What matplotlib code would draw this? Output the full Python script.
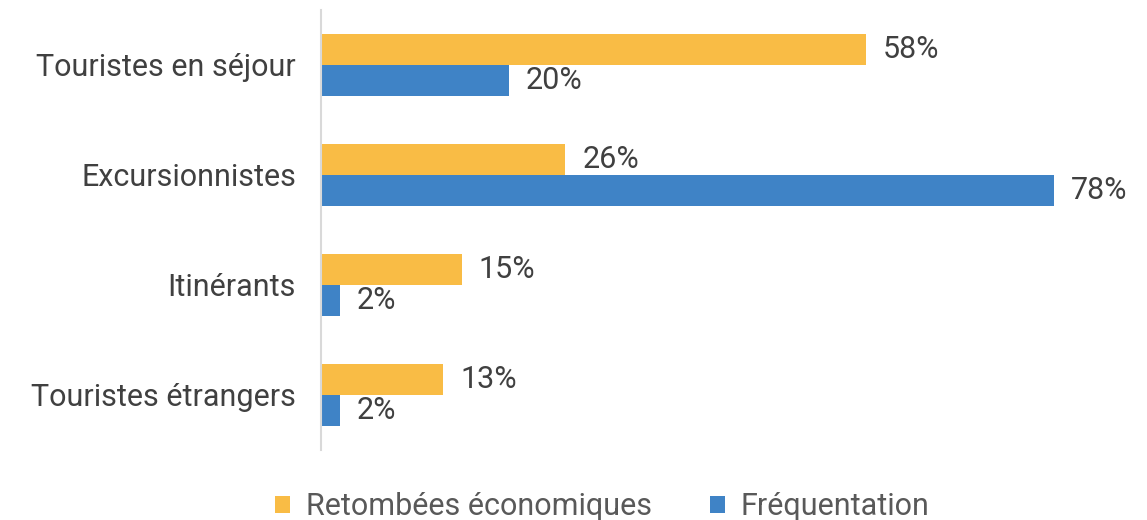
import numpy as np
import matplotlib.pyplot as plt

plt.rcParams['font.family'] = ['Roboto', 'DejaVu Sans']

categories = ["Touristes en séjour", "Excursionnistes", "Itinérants", "Touristes étrangers"]
retombees = [58, 26, 15, 13]
frequentation = [20, 78, 2, 2]

orange = "#F9BC45"
blue = "#3F83C6"

fig = plt.figure(figsize=(11.47, 5.2), dpi=100)
ax = fig.add_axes([321 / 1147, 1 - 450 / 520, 0.72, 440 / 520])

y = np.arange(len(categories))
h = 0.282
bars_o = ax.barh(y - h / 2, retombees, height=h, color=orange, label="Retombées économiques")
bars_b = ax.barh(y + h / 2, frequentation, height=h, color=blue, label="Fréquentation")

for bars, vals in ((bars_o, retombees), (bars_b, frequentation)):
    for b, v in zip(bars, vals):
        ax.text(v + 1.8, b.get_y() + b.get_height() / 2, f"{v}%",
                va="center", ha="left", fontsize=22, color="#404040")

ax.set_xlim(0, 826 / 9.4)
ax.set_ylim(3.5, -0.5)
ax.set_yticks(y)
ax.set_yticklabels(categories, fontsize=22, color="#404040")
ax.tick_params(axis="y", length=0, pad=18)
ax.set_xticks([])
for s in ["top", "right", "bottom"]:
    ax.spines[s].set_visible(False)
ax.spines["left"].set_color("#D9D9D9")
ax.spines["left"].set_linewidth(1.5)

leg = fig.legend(loc="lower center", bbox_to_anchor=(0.525, -0.055), ncol=2, frameon=False,
                 fontsize=22, handlelength=0.5, handleheight=0.5, handletextpad=0.5,
                 columnspacing=1.9)
for t in leg.get_texts():
    t.set_color("#595959")

fig.savefig("out.png", dpi=100)
